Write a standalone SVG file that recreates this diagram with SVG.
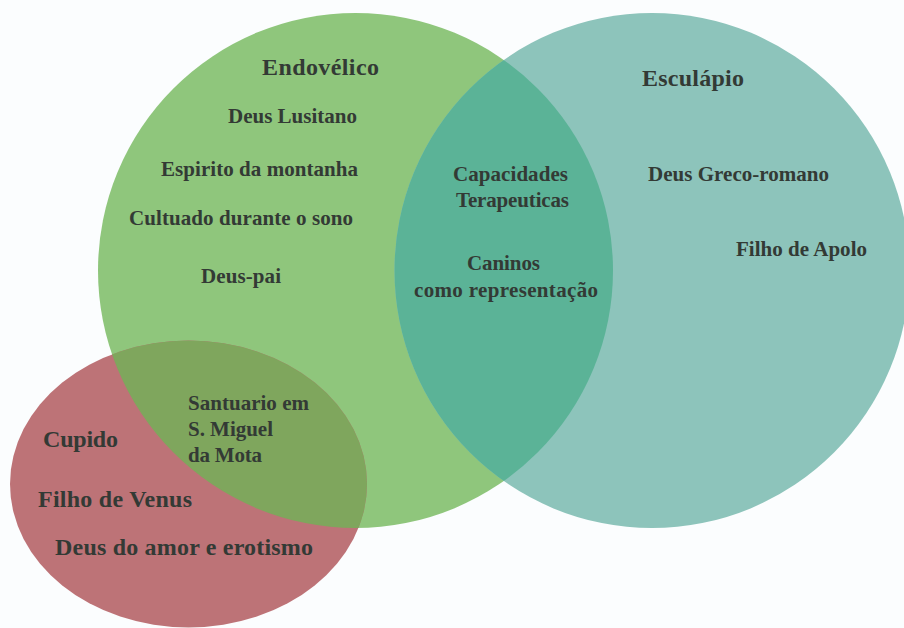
<svg xmlns="http://www.w3.org/2000/svg" width="904" height="628" viewBox="0 0 904 628">
<style>
text{font-family:"Liberation Serif","Times New Roman",serif;font-weight:bold;fill:#333a35}
.s{font-size:21px}
.l{font-size:24px}
</style>
<defs>
<clipPath id="cg"><circle cx="355.5" cy="270.5" r="257.5"/></clipPath>
</defs>
<rect width="904" height="628" fill="#fbfdfe"/>
<g id="endovelico">
<circle cx="355.5" cy="270.5" r="257.5" fill="#8fc67c"/>
</g>
<g id="esculapio">
<circle cx="652" cy="270.5" r="257.5" fill="#8dc4bb"/>
<circle cx="652" cy="270.5" r="257.5" fill="#5bb397" clip-path="url(#cg)"/>
</g>
<g id="cupido">
<ellipse cx="188.5" cy="484" rx="178.5" ry="143.5" fill="#bd7377"/>
<ellipse cx="188.5" cy="484" rx="178.5" ry="143.5" fill="#7fa65d" clip-path="url(#cg)"/>
</g>
<g id="labels-endovelico">
<text class="l" x="262" y="75" textLength="117">Endovélico</text>
<text class="s" x="228" y="123" textLength="129">Deus Lusitano</text>
<text class="s" x="161" y="176" textLength="197">Espirito da montanha</text>
<text class="s" x="129" y="225" textLength="224">Cultuado durante o sono</text>
<text class="s" x="201" y="283" textLength="80">Deus-pai</text>
</g>
<g id="labels-shared">
<text class="s" x="453" y="181" textLength="115">Capacidades</text>
<text class="s" x="456" y="207" textLength="113">Terapeuticas</text>
<text class="s" x="467" y="270" textLength="73">Caninos</text>
<text class="s" x="414" y="297" textLength="184">como representação</text>
<text class="s" x="188" y="410" textLength="121">Santuario em</text>
<text class="s" x="188" y="436" textLength="85">S. Miguel</text>
<text class="s" x="188" y="462" textLength="74">da Mota</text>
</g>
<g id="labels-esculapio">
<text class="l" x="642" y="86" textLength="102">Esculápio</text>
<text class="s" x="648" y="181" textLength="181">Deus Greco-romano</text>
<text class="s" x="736" y="256" textLength="131">Filho de Apolo</text>
</g>
<g id="labels-cupido">
<text class="l" x="43" y="447" textLength="75">Cupido</text>
<text class="l" x="38" y="507" textLength="154">Filho de Venus</text>
<text class="l" x="55" y="555" textLength="258">Deus do amor e erotismo</text>
</g>
<g id="connectors"/>
</svg>
